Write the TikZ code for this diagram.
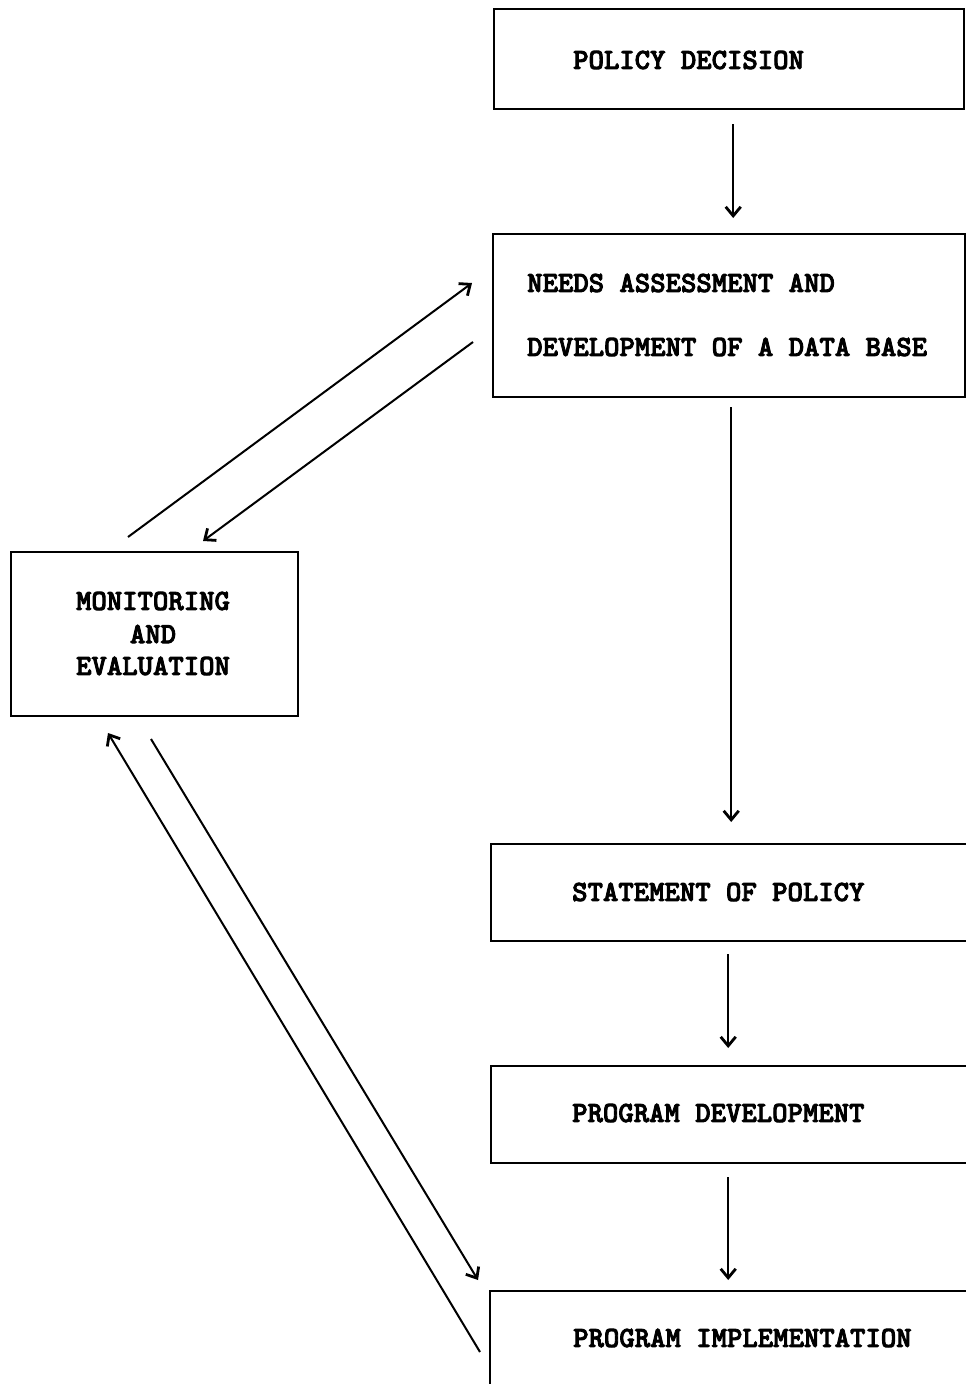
\documentclass[tikz,border=0pt]{standalone}
\usepackage{fontspec}
\usetikzlibrary{arrows.meta}
\newfontfamily\twfam{lmmonolt10-bold.otf}[FakeBold=3]
\newcommand\twfont{\twfam\fontsize{29.3}{33}\selectfont}
\begin{document}
\begin{tikzpicture}[x=1pt,y=-1pt,
  box/.style={draw, line width=2.4pt, rectangle, anchor=north west, inner sep=0pt},
  txt/.style={font=\twfont, inner sep=0pt},
  arr/.style={line width=2pt, -{Straight Barb[length=9pt,width=15pt,line width=2.8pt]}}]
\useasboundingbox (0,0) rectangle (966,1384);
\clip (0,0) rectangle (966,1384);
% boxes
\node[box, minimum width=470pt, minimum height=100pt] (pd) at (493,8) {};
\node[box, minimum width=472pt, minimum height=163pt] (na) at (492,233) {};
\node[box, minimum width=500pt, minimum height=97pt] (sp) at (490,843) {};
\node[box, minimum width=500pt, minimum height=97pt] (pdv) at (490,1065) {};
\node[box, minimum width=500pt, minimum height=120pt] (pi) at (489,1290) {};
\node[box, minimum width=287pt, minimum height=164pt] (me) at (10,551) {};
% texts
\node[txt, anchor=west] (tpd) at (573,60) {POLICY DECISION};
\node[txt, anchor=west] (tna1) at (527,283) {NEEDS ASSESSMENT AND};
\node[txt, anchor=west] (tna2) at (527,347) {DEVELOPMENT OF A DATA BASE};
\node[txt, anchor=west] (tsp) at (572,892) {STATEMENT OF POLICY};
\node[txt, anchor=west] (tpdv) at (572,1113) {PROGRAM DEVELOPMENT};
\node[txt, anchor=west] (tpi) at (573,1338) {PROGRAM IMPLEMENTATION};
\node[txt] (tme1) at (153,601) {MONITORING};
\node[txt] (tme2) at (153,634) {AND};
\node[txt] (tme3) at (153,666) {EVALUATION};
% vertical arrows
\draw[arr, shorten <=14pt, shorten >=15pt] ([xshift=4pt]pd.south) -- ([xshift=4pt]pd.south |- na.north);
\draw[arr, shorten <=9pt, shorten >=21pt] ([xshift=2pt]na.south) -- ([xshift=2pt]na.south |- sp.north);
\draw[arr, shorten <=12pt, shorten >=17pt] ([xshift=-13pt]sp.south) -- ([xshift=-13pt]sp.south |- pdv.north);
\draw[arr, shorten <=13pt, shorten >=10pt] ([xshift=-13pt]pdv.south) -- ([xshift=-13pt]pdv.south |- pi.north);
% diagonal arrows
\coordinate (m1) at (128,537);
\coordinate (n1) at (472,283);
\coordinate (n2) at (473,342);
\coordinate (m2) at (203,541);
\coordinate (p1) at (480,1352);
\coordinate (m3) at (108,733);
\coordinate (m4) at (151,739);
\coordinate (p2) at (478,1280);
\draw[arr] (m1) -- (n1);
\draw[arr] (n2) -- (m2);
\draw[arr] (p1) -- (m3);
\draw[arr] (m4) -- (p2);
\end{tikzpicture}
\end{document}
